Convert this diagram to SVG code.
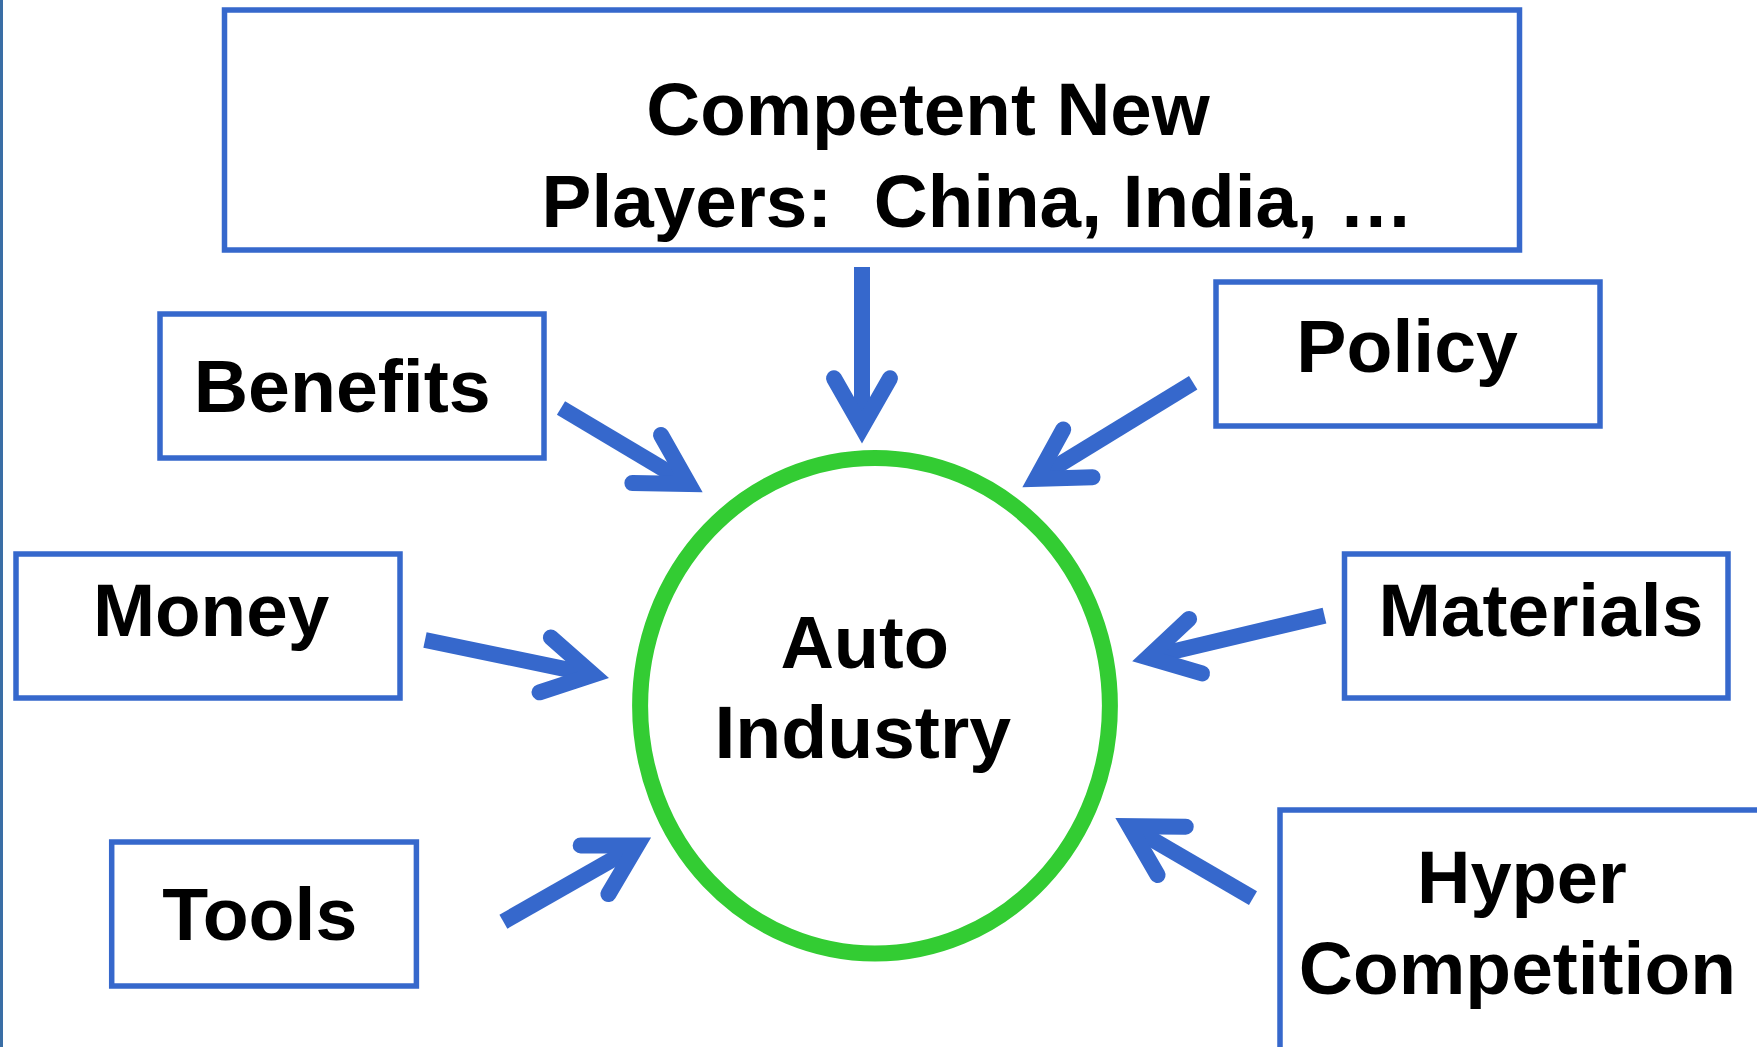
<svg xmlns="http://www.w3.org/2000/svg" width="1757" height="1047" viewBox="0 0 1757 1047">
<style>
.box{fill:#FFFFFF;stroke:#3668CC;stroke-width:5.5}
.lbl{font-family:"Liberation Sans",Arial,sans-serif;font-weight:bold;font-size:75px;fill:#000000}
.shaft{stroke:#3668CC;stroke-width:16;stroke-linecap:butt;fill:none;marker-end:url(#head)}
.ring{fill:#FFFFFF;stroke:#33CC33;stroke-width:16}
</style>
<defs>
<marker id="head" markerUnits="userSpaceOnUse" orient="auto" refX="0" refY="0" markerWidth="10" markerHeight="10" overflow="visible">
<path d="M -49 -28 L 0 0 L -49 28" fill="none" stroke="#3668CC" stroke-width="16" stroke-linecap="round" stroke-linejoin="miter" stroke-miterlimit="10"/>
</marker>
</defs>
<rect x="0" y="0" width="1757" height="1047" fill="#FFFFFF"/>
<rect x="0" y="0" width="3" height="1047" fill="#3A6EA5"/>

<g id="node-new-players">
<rect class="box" x="224.5" y="10" width="1295" height="240"/>
<text class="lbl" x="646.3" y="135" textLength="563.5" lengthAdjust="spacingAndGlyphs">Competent New</text>
<text class="lbl" x="541.6" y="226.7" textLength="871.5" lengthAdjust="spacingAndGlyphs" xml:space="preserve">Players:  China, India, …</text>
</g>

<g id="node-benefits">
<rect class="box" x="160" y="314" width="384" height="144"/>
<text class="lbl" x="193.7" y="412.3" textLength="297" lengthAdjust="spacingAndGlyphs">Benefits</text>
</g>

<g id="node-policy">
<rect class="box" x="1216" y="282" width="384" height="144"/>
<text class="lbl" x="1296.3" y="371.7" textLength="221.5" lengthAdjust="spacingAndGlyphs">Policy</text>
</g>

<g id="node-money">
<rect class="box" x="16" y="554" width="384" height="144"/>
<text class="lbl" x="92.9" y="636" textLength="236.3" lengthAdjust="spacingAndGlyphs">Money</text>
</g>

<g id="node-tools">
<rect class="box" x="111.7" y="842" width="304.7" height="144"/>
<text class="lbl" x="162.3" y="940.2" textLength="195" lengthAdjust="spacingAndGlyphs">Tools</text>
</g>

<g id="node-materials">
<rect class="box" x="1344.5" y="554" width="383.5" height="144"/>
<text class="lbl" x="1378.4" y="636" textLength="325" lengthAdjust="spacingAndGlyphs">Materials</text>
</g>

<g id="node-hyper-competition">
<rect class="box" x="1280" y="810" width="600" height="400"/>
<text class="lbl" x="1417" y="902.5" textLength="209.7" lengthAdjust="spacingAndGlyphs">Hyper</text>
<text class="lbl" x="1298.8" y="994" textLength="437.2" lengthAdjust="spacingAndGlyphs">Competition</text>
</g>

<g id="node-auto-industry">
<ellipse class="ring" cx="875" cy="705.8" rx="234.9" ry="247.8"/>
<text class="lbl" x="780.4" y="668.3" textLength="168.6" lengthAdjust="spacingAndGlyphs">Auto</text>
<text class="lbl" x="714.4" y="758.3" textLength="296.6" lengthAdjust="spacingAndGlyphs">Industry</text>
</g>

<g id="connectors">
<line class="shaft" x1="862" y1="267" x2="862" y2="427.3"/>
<line class="shaft" x1="561" y1="408" x2="688.8" y2="484.1"/>
<line class="shaft" x1="1193.2" y1="382.7" x2="1036.1" y2="478.9"/>
<line class="shaft" x1="425" y1="640" x2="593.2" y2="674.8"/>
<line class="shaft" x1="503.4" y1="921.7" x2="637.1" y2="845.5"/>
<line class="shaft" x1="1324.5" y1="615.6" x2="1147.9" y2="657.5"/>
<line class="shaft" x1="1253" y1="898.2" x2="1129.3" y2="826.2"/>
</g>
</svg>
